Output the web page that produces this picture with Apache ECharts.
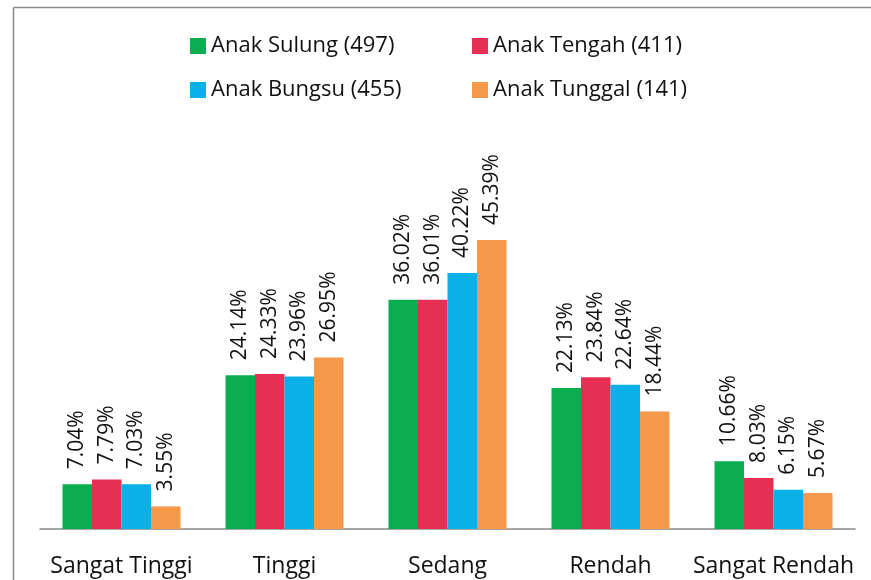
<!DOCTYPE html>
<html>
  <head>
    <meta charset="utf-8" />
    <title>Anak Bar Chart</title>
    <script src="https://cdn.jsdelivr.net/npm/echarts@6/dist/echarts.min.js"></script>
    <style>
      body {
        margin: 0;
        padding: 0;
        background: #ffffff;
      }
      #main {
        width: 871px;
        height: 580px;
      }
    </style>
  </head>
  <body>
    <div id="main"></div>
    <script type="text/javascript">
      var categories = ["Sangat Tinggi", "Tinggi", "Sedang", "Rendah", "Sangat Rendah"];
      var seriesNames = ["Anak Sulung (497)", "Anak Tengah (411)", "Anak Bungsu (455)", "Anak Tunggal (141)"];
      var sulung = [7.04, 24.14, 36.02, 22.13, 10.66];
      var tengah = [7.79, 24.33, 36.01, 23.84, 8.03];
      var bungsu = [7.03, 23.96, 40.22, 22.64, 6.15];
      var tunggal = [3.55, 26.95, 45.39, 18.44, 5.67];
      var colors = ["#0aad4f", "#e62f52", "#0ab0e8", "#f5984a"];

      var font = "Open Sans";
      var myChart = echarts.init(document.getElementById("main"));

      function makeSeries(name, data, color) {
        return {
          name: name,
          type: "bar",
          data: data,
          itemStyle: { color: color },
          barGap: "0%",
          barCategoryGap: "27.6%",
          label: {
            show: true,
            position: "top",
            rotate: 90,
            align: "left",
            verticalAlign: "middle",
            distance: 15,
            formatter: "{c}%",
            fontFamily: font,
            fontSize: 21,
            color: "#111",
          },
        };
      }

      var legendText = { fontFamily: font, fontSize: 22, color: "#111" };

      var option = {
        animation: false,
        backgroundColor: "#ffffff",
        grid: { left: 40, right: 16, top: 147, bottom: 51 },
        legend: [
          {
            orient: "vertical",
            left: 185,
            top: 30,
            itemWidth: 16,
            itemHeight: 16,
            itemGap: 22,
            icon: "rect",
            textStyle: legendText,
            data: [seriesNames[0], seriesNames[2]],
          },
          {
            orient: "vertical",
            left: 467,
            top: 30,
            itemWidth: 16,
            itemHeight: 16,
            itemGap: 22,
            icon: "rect",
            textStyle: legendText,
            data: [seriesNames[1], seriesNames[3]],
          },
        ],
        xAxis: {
          type: "category",
          data: categories,
          axisLine: { lineStyle: { color: "#8a8a8a", width: 1.5 } },
          axisTick: { show: false },
          axisLabel: {
            interval: 0,
            fontFamily: font,
            fontSize: 23,
            color: "#111",
            margin: 26,
          },
        },
        yAxis: {
          type: "value",
          min: 0,
          max: 60,
          show: false,
          splitLine: { show: false },
        },
        graphic: [
          {
            type: "line",
            shape: { x1: 13.5, y1: 7.5, x2: 13.5, y2: 580 },
            style: { stroke: "#8a8a8a", lineWidth: 1.5 },
          },
          {
            type: "line",
            shape: { x1: 13.5, y1: 7.5, x2: 871, y2: 7.5 },
            style: { stroke: "#8a8a8a", lineWidth: 1.5 },
          },
        ],
        series: [
          makeSeries(seriesNames[0], sulung, colors[0]),
          makeSeries(seriesNames[1], tengah, colors[1]),
          makeSeries(seriesNames[2], bungsu, colors[2]),
          makeSeries(seriesNames[3], tunggal, colors[3]),
        ],
      };

      myChart.setOption(option);
    </script>
  </body>
</html>
